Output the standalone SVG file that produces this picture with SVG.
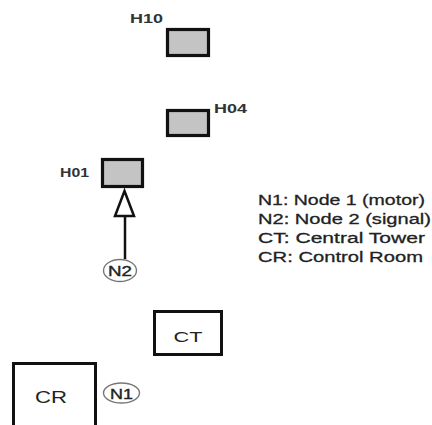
<svg xmlns="http://www.w3.org/2000/svg" width="432" height="425" viewBox="0 0 432 425">
<style>
text{font-family:"Liberation Sans",Arial,sans-serif;fill:#222}
.h{fill:#c4c4c4;stroke:#111;stroke-width:3.2}
.b{fill:#fff;stroke:#111;stroke-width:3}
.lbl{font-size:12px;font-weight:bold;fill:#333}
.leg{font-size:15.5px;stroke:#222;stroke-width:0.3}
.n{fill:#fff;stroke:#777;stroke-width:1.4}
.nt{font-size:15px;text-anchor:middle;stroke:#222;stroke-width:0.4}
</style>
<rect width="432" height="425" fill="#fff"/>
<g id="connectors">
<line x1="125" y1="216" x2="125" y2="259" stroke="#111" stroke-width="2.5"/>
<polygon points="124.5,191 134,216 115,216" fill="#fff" stroke="#111" stroke-width="2.5" stroke-linejoin="miter"/>
</g>
<g id="H10">
<rect class="h" x="167.5" y="29.5" width="41" height="26"/>
<text class="lbl" x="130" y="23" textLength="33" lengthAdjust="spacingAndGlyphs">H10</text>
</g>
<g id="H04">
<rect class="h" x="167.5" y="110.5" width="41" height="25"/>
<text class="lbl" x="214" y="113" textLength="33" lengthAdjust="spacingAndGlyphs">H04</text>
</g>
<g id="H01">
<rect class="h" x="102.5" y="159.5" width="40" height="27"/>
<text class="lbl" x="60" y="177" textLength="29" lengthAdjust="spacingAndGlyphs">H01</text>
</g>
<g id="N2">
<ellipse class="n" cx="120" cy="270.5" rx="16.5" ry="11"/>
<text class="nt" x="120" y="276" textLength="24" lengthAdjust="spacingAndGlyphs">N2</text>
</g>
<g id="CT">
<rect class="b" x="154.5" y="311.5" width="67" height="43"/>
<text x="188" y="342" font-size="15" text-anchor="middle" textLength="29" lengthAdjust="spacingAndGlyphs">CT</text>
</g>
<g id="CR">
<path d="M13.5,430 V363.5 H95.5 V430" fill="#fff" stroke="#111" stroke-width="3"/>
<text x="51" y="403" font-size="17" text-anchor="middle" textLength="32" lengthAdjust="spacingAndGlyphs">CR</text>
</g>
<g id="N1">
<ellipse class="n" cx="121.5" cy="393" rx="18" ry="10"/>
<text class="nt" x="121.5" y="398.5" textLength="23" lengthAdjust="spacingAndGlyphs">N1</text>
</g>
<g id="legend">
<text class="leg" x="258" y="205" textLength="167" lengthAdjust="spacingAndGlyphs">N1: Node 1 (motor)</text>
<text class="leg" x="258" y="224" textLength="173" lengthAdjust="spacingAndGlyphs">N2: Node 2 (signal)</text>
<text class="leg" x="258" y="243" textLength="167" lengthAdjust="spacingAndGlyphs">CT: Central Tower</text>
<text class="leg" x="258" y="262" textLength="165" lengthAdjust="spacingAndGlyphs">CR: Control Room</text>
</g>
</svg>
